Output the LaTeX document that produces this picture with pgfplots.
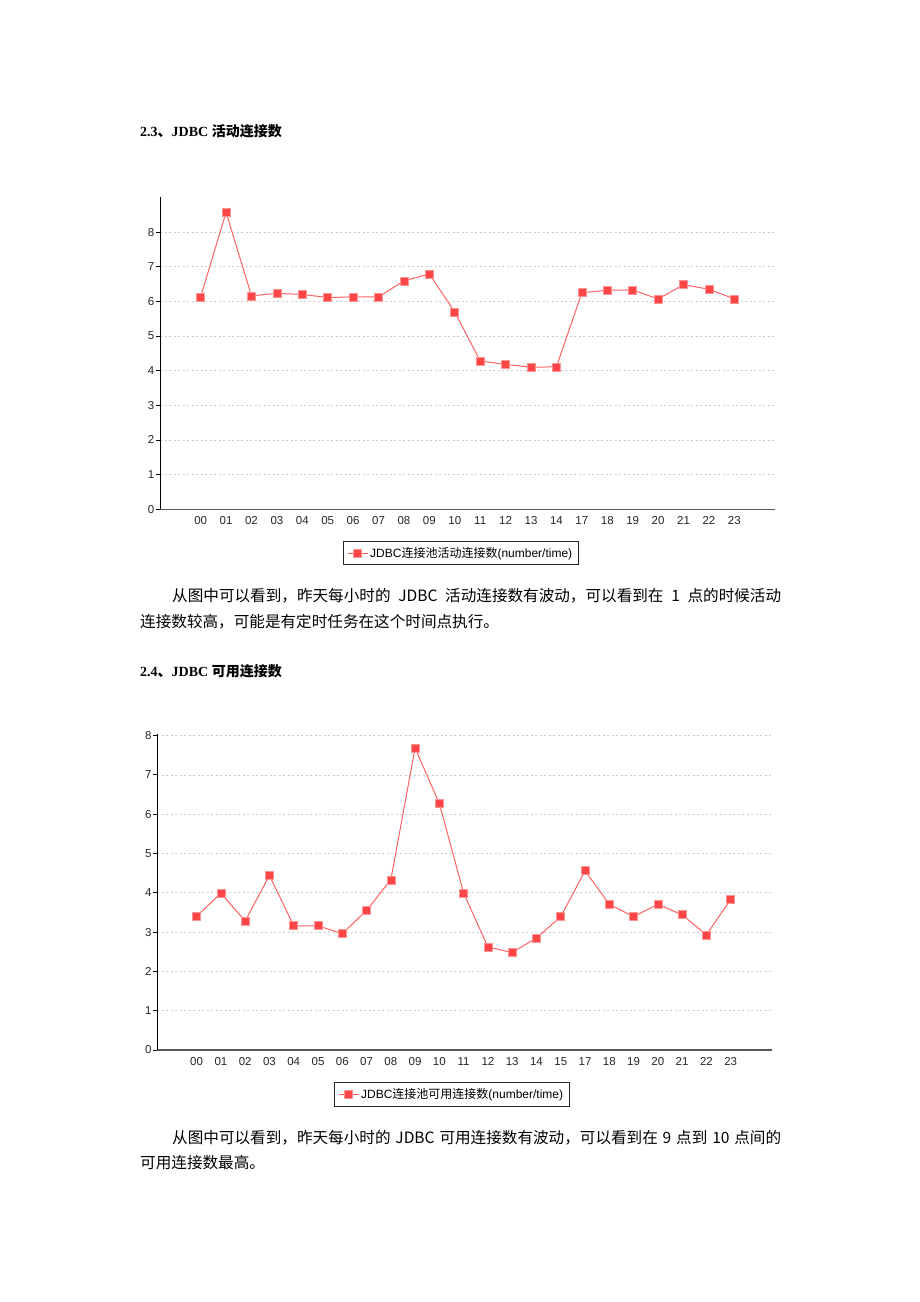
\documentclass[border=0pt]{standalone}
\usepackage{pgfplots}
\pgfplotsset{compat=1.18}
\usepackage{fontspec}
\setmainfont{Liberation Serif}
\newfontfamily\cjk{Noto Sans CJK SC}
\newfontfamily\sansf{Liberation Sans}
\definecolor{lred}{HTML}{FF6262}
\definecolor{mred}{HTML}{FF4646}
\definecolor{mbord}{HTML}{FF9494}
\definecolor{gridc}{HTML}{CCCCCC}
\newcommand{\gap}{\hskip 2pt plus 1fil\relax}
\pgfplotstableread{
x y
0 6.13
1 8.57
2 6.16
3 6.23
4 6.20
5 6.11
6 6.13
7 6.13
8 6.59
9 6.79
10 5.69
11 4.28
12 4.18
13 4.10
14 4.11
15 6.25
16 6.32
17 6.33
18 6.07
19 6.48
20 6.35
21 6.07
}\tabA
\pgfplotstableread{
x y
0 3.40
1 3.99
2 3.28
3 4.44
4 3.16
5 3.16
6 2.96
7 3.55
8 4.33
9 7.68
10 6.27
11 3.99
12 2.62
13 2.48
14 2.85
15 3.39
16 4.56
17 3.71
18 3.39
19 3.71
20 3.44
21 2.93
22 3.83
}\tabB
\pgfplotsset{
  mychart/.style={
    scale only axis,
    axis x line*=bottom,
    axis y line*=left,
    x axis line style={draw=black!65, line width=1.2pt},
    y axis line style={draw=black, line width=1pt},
    ymin=0,
    ytick={0,...,8},
    ymajorgrids,
    grid style={gridc, dash pattern=on 2pt off 2.5pt, line width=0.7pt},
    tick align=outside,
    major tick length=4pt,
    xtick style={draw=none},
    ytick style={black, line width=0.8pt},
    ticklabel style={font=\sansf\fontsize{11.5}{13}\selectfont, text=black!85},
    yticklabel style={inner xsep=1.5pt},
    /pgf/number format/assume math mode=true,
    legend style={draw=black!85, line width=0.8pt, inner xsep=4pt, inner ysep=4pt,
      font=\sansf\fontsize{12}{14}\selectfont, legend cell align=left},
    legend image code/.code={\draw[mark repeat=2,mark phase=2,##1] plot coordinates {(0pt,0pt)(10pt,0pt)(20pt,0pt)};},
  },
  myline/.style={color=lred, line width=1pt, mark=square*, mark size=4pt,
    mark options={fill=mred, draw=mbord, line width=0.6pt, solid}},
}
\begin{document}
\begin{tikzpicture}
\fill[white] (0pt,0pt) rectangle (920pt,1302pt);
% headings
\node[anchor=base west, inner sep=0] at (140pt,1165pt) {\fontsize{14}{16}\selectfont\bfseries 2.3{\cjk 、}JDBC {\cjk 活动连接数}};
\node[anchor=base west, inner sep=0] at (140pt,625pt) {\fontsize{14}{16}\selectfont\bfseries 2.4{\cjk 、}JDBC {\cjk 可用连接数}};
% body text
\node[anchor=base west, inner sep=0] at (172pt,700pt) {\cjk\fontsize{15.6}{18}\selectfont\makebox[609pt][s]{从图中可以看到，昨天每小时的\gap JDBC\gap 活动连接数有波动，可以看到在\gap 1\gap 点的时候活动}};
\node[anchor=base west, inner sep=0] at (140pt,674pt) {\cjk\fontsize{15.6}{18}\selectfont 连接数较高，可能是有定时任务在这个时间点执行。};
\node[anchor=base west, inner sep=0] at (172pt,158pt) {\cjk\fontsize{15.6}{18}\selectfont\makebox[609pt][s]{从图中可以看到，昨天每小时的\gap JDBC\gap 可用连接数有波动，可以看到在\gap 9\gap 点到\gap 10\gap 点间的}};
\node[anchor=base west, inner sep=0] at (140pt,133pt) {\cjk\fontsize{15.6}{18}\selectfont 可用连接数最高。};

\begin{axis}[mychart,
  at={(160pt,792.7pt)}, anchor=south west,
  width=615pt, height=312.6pt,
  xmin=-1.6, xmax=22.6, ymax=9.02,
  xtick={0,...,21},
  xticklabels={00,01,02,03,04,05,06,07,08,09,10,11,12,13,14,17,18,19,20,21,22,23},
  legend style={at={(0.489,-0.101)}, anchor=north},
]
\addplot[myline] table[x=x,y=y] {\tabA};
\addlegendentry{JDBC{\cjk 连接池活动连接数}(number/time)}
\end{axis}

\begin{axis}[mychart,
  at={(157.3pt,252pt)}, anchor=south west,
  width=614.4pt, height=316pt,
  xmin=-1.62, xmax=23.69, ymax=8.04,
  xtick={0,...,22},
  xticklabels={00,01,02,03,04,05,06,07,08,09,10,11,12,13,14,15,17,18,19,20,21,22,23},
  legend style={at={(0.479,-0.101)}, anchor=north},
]
\addplot[myline] table[x=x,y=y] {\tabB};
\addlegendentry{JDBC{\cjk 连接池可用连接数}(number/time)}
\end{axis}
\end{tikzpicture}
\end{document}
